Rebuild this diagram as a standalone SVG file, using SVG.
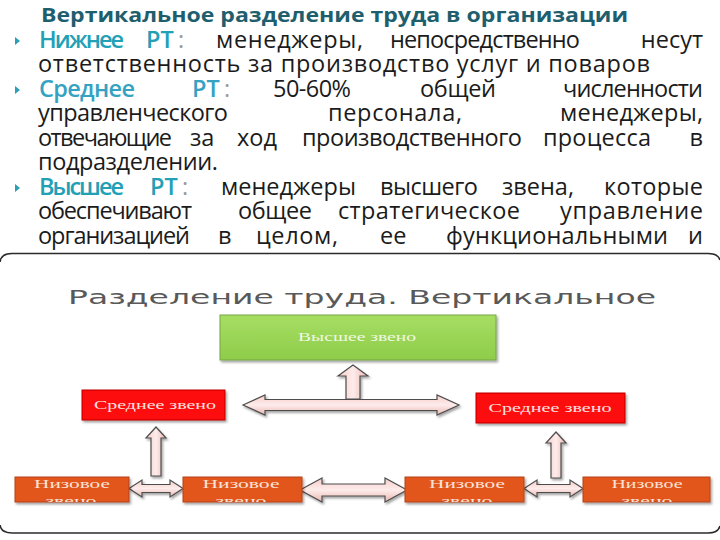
<svg xmlns="http://www.w3.org/2000/svg" width="720" height="540" viewBox="0 0 720 540">
<style>
.t{font-family:"Open Sans","DejaVu Sans",sans-serif;font-size:23.5px;fill:#1b1b1b}
.h{font-family:"Open Sans","DejaVu Sans",sans-serif;font-size:23.5px;font-weight:600;fill:#22a0b6}
.m{fill:#35a2c2}
.c{font-family:"Open Sans","DejaVu Sans",sans-serif;font-size:23.5px;fill:#9a9a9a}
.e{text-anchor:end}
.bt{font-family:"Liberation Serif","DejaVu Serif",serif;font-size:12px;text-anchor:middle}
.arr{fill:url(#pink);stroke:#4d4d4d;stroke-width:1.2;filter:url(#sh)}
.arv{fill:url(#pinkv);stroke:#4d4d4d;stroke-width:1.2;filter:url(#sh)}
.frame{fill:none;stroke:#2b2b2b;stroke-width:1.6}
.low{fill:#e2561d;stroke:#b4431a;stroke-width:1}
.red{fill:#fd0b0b;stroke:#c00000;stroke-width:1}
</style>
<defs>
<linearGradient id="pink" x1="0" y1="0" x2="0" y2="1">
<stop offset="0" stop-color="#f6cdc9"/><stop offset="0.5" stop-color="#fdeceb"/><stop offset="1" stop-color="#ebb6b1"/>
</linearGradient>
<linearGradient id="pinkv" x1="0" y1="0" x2="1" y2="0">
<stop offset="0" stop-color="#f6cdc9"/><stop offset="0.5" stop-color="#fdeceb"/><stop offset="1" stop-color="#ebb6b1"/>
</linearGradient>
<linearGradient id="green" x1="0" y1="0" x2="0" y2="1">
<stop offset="0" stop-color="#a6de62"/><stop offset="1" stop-color="#8fcc4b"/>
</linearGradient>
<filter id="sh" x="-20%" y="-20%" width="150%" height="160%">
<feDropShadow dx="1.5" dy="2" stdDeviation="1" flood-color="#000" flood-opacity="0.35"/>
</filter>
<polygon id="bul" points="0,-4 5,0 0,4" fill="#2a9fb5"/>
<clipPath id="c1"><rect x="15" y="477" width="114" height="25"/></clipPath>
<clipPath id="c2"><rect x="183" y="477" width="119" height="25"/></clipPath>
<clipPath id="c3"><rect x="405" y="477" width="119" height="25"/></clipPath>
<clipPath id="c4"><rect x="583" y="477" width="127" height="25"/></clipPath>
</defs>
<rect width="720" height="540" fill="#ffffff"/>

<g id="text-block">
<text x="41" y="21.5" font-family="Open Sans, DejaVu Sans, sans-serif" font-size="20" font-weight="700" fill="#1e5e6d" textLength="587" lengthAdjust="spacingAndGlyphs">Вертикальное разделение труда в организации</text>

<use href="#bul" x="15" y="41"/>
<text class="h" x="39" y="47.5" textLength="85">Нижнее</text>
<text class="h" x="146" y="47.5">РТ</text><text class="c" x="178" y="47.5">:</text>
<text class="t" x="216" y="47.5" textLength="147">менеджеры,</text>
<text class="t" x="390" y="47.5" textLength="190">непосредственно</text>
<text class="t e" x="703" y="47.5">несут</text>

<text class="t" x="38" y="72" textLength="612">ответственность за производство услуг и поваров</text>

<use href="#bul" x="15" y="90"/>
<text class="h m" x="39" y="96.5" textLength="96">Среднее</text>
<text class="h m" x="192" y="96.5">РТ</text><text class="c" x="224" y="96.5">:</text>
<text class="t" x="273" y="96.5" textLength="78">50-60%</text>
<text class="t" x="420" y="96.5" textLength="76">общей</text>
<text class="t e" x="703" y="96.5" textLength="140">численности</text>

<text class="t" x="38" y="121" textLength="190">управленческого</text>
<text class="t" x="328" y="121" textLength="134">персонала,</text>
<text class="t e" x="703" y="121" textLength="143">менеджеры,</text>

<text class="t" x="38" y="145.5" textLength="134">отвечающие</text>
<text class="t" x="190" y="145.5">за</text>
<text class="t" x="237" y="145.5">ход</text>
<text class="t" x="302" y="145.5" textLength="220">производственного</text>
<text class="t" x="543" y="145.5" textLength="108">процесса</text>
<text class="t e" x="703" y="145.5">в</text>

<text class="t" x="38" y="170" textLength="180">подразделении.</text>

<use href="#bul" x="15" y="188"/>
<text class="h" x="39" y="194.5" textLength="85">Высшее</text>
<text class="h" x="150" y="194.5">РТ</text><text class="c" x="182" y="194.5">:</text>
<text class="t" x="221" y="194.5" textLength="135">менеджеры</text>
<text class="t" x="380" y="194.5" textLength="98">высшего</text>
<text class="t" x="502" y="194.5" textLength="72">звена,</text>
<text class="t e" x="703" y="194.5" textLength="99">которые</text>

<text class="t" x="38" y="219" textLength="154">обеспечивают</text>
<text class="t" x="238" y="219" textLength="74">общее</text>
<text class="t" x="338" y="219" textLength="182">стратегическое</text>
<text class="t e" x="703" y="219" textLength="143">управление</text>

<text class="t" x="38" y="243.5" textLength="152">организацией</text>
<text class="t" x="218" y="243.5">в</text>
<text class="t" x="256" y="243.5" textLength="82">целом,</text>
<text class="t" x="380" y="243.5">ее</text>
<text class="t" x="446" y="243.5" textLength="222">функциональными</text>
<text class="t e" x="703" y="243.5">и</text>
</g>

<g id="frame">
<path class="frame" d="M0,262 Q1,253.5 12,253.5 L708,253.5 Q718,253.5 720,260"/>
<path class="frame" d="M0,525 Q1,533 12,533 L708,533 Q718,533 720,526"/>
</g>

<text x="68" y="304" font-family="DejaVu Sans, Verdana, sans-serif" font-size="19" fill="#595959" textLength="588" lengthAdjust="spacingAndGlyphs">Разделение труда. Вертикальное</text>

<g id="connectors">
<path class="arv" d="M353,365 L368,376 L360,376 L360,399 L346,399 L346,376 L338,376 Z"/>
<path class="arr" d="M243,405 L265,395 L265,399.5 L437,399.5 L437,395 L459,405 L437,415 L437,410.5 L265,410.5 L265,415 Z"/>
<path class="arv" d="M156,427 L166,438 L161,438 L161,476 L151,476 L151,438 L146,438 Z"/>
<path class="arv" d="M556,432 L566,443 L561,443 L561,478 L551,478 L551,443 L546,443 Z"/>
<path class="arr" d="M129,488.5 L142,480 L142,484.5 L170,484.5 L170,480 L183,488.5 L170,497 L170,492.5 L142,492.5 L142,497 Z"/>
<path class="arr" d="M300,490 L322,478 L322,484 L385,484 L385,478 L407,490 L385,502 L385,496 L322,496 L322,502 Z"/>
<path class="arr" d="M524,488.5 L537,480 L537,484.5 L570,484.5 L570,480 L583,488.5 L570,497 L570,492.5 L537,492.5 L537,497 Z"/>
</g>

<g id="node-top">
<rect x="220" y="315" width="276" height="45" fill="url(#green)" stroke="#76a646" stroke-width="1" filter="url(#sh)"/>
<text class="bt" x="357" y="341" fill="#eef8e2" textLength="118" lengthAdjust="spacingAndGlyphs">Высшее звено</text>
</g>
<g id="node-mid-left">
<rect class="red" x="82" y="390" width="143" height="30" filter="url(#sh)"/>
<text class="bt" x="155" y="409" fill="#ffe2e0" textLength="122" lengthAdjust="spacingAndGlyphs">Среднее звено</text>
</g>
<g id="node-mid-right">
<rect class="red" x="476" y="393" width="149" height="30" filter="url(#sh)"/>
<text class="bt" x="550" y="412" fill="#ffe2e0" textLength="123" lengthAdjust="spacingAndGlyphs">Среднее звено</text>
</g>
<g id="node-low-1">
<rect class="low" x="15" y="477" width="114" height="25" filter="url(#sh)"/>
<g clip-path="url(#c1)" fill="#fbe3d8">
<text class="bt" x="72" y="488" textLength="76" lengthAdjust="spacingAndGlyphs">Низовое</text>
<text class="bt" x="71" y="505" textLength="51" lengthAdjust="spacingAndGlyphs">звено</text>
</g>
</g>
<g id="node-low-2">
<rect class="low" x="183" y="477" width="119" height="25" filter="url(#sh)"/>
<g clip-path="url(#c2)" fill="#fbe3d8">
<text class="bt" x="241" y="488" textLength="77" lengthAdjust="spacingAndGlyphs">Низовое</text>
<text class="bt" x="241" y="505" textLength="51" lengthAdjust="spacingAndGlyphs">звено</text>
</g>
</g>
<g id="node-low-3">
<rect class="low" x="405" y="477" width="119" height="25" filter="url(#sh)"/>
<g clip-path="url(#c3)" fill="#fbe3d8">
<text class="bt" x="467" y="488" textLength="76" lengthAdjust="spacingAndGlyphs">Низовое</text>
<text class="bt" x="467" y="505" textLength="51" lengthAdjust="spacingAndGlyphs">звено</text>
</g>
</g>
<g id="node-low-4">
<rect class="low" x="583" y="477" width="127" height="25" filter="url(#sh)"/>
<g clip-path="url(#c4)" fill="#fbe3d8">
<text class="bt" x="647" y="488" textLength="71" lengthAdjust="spacingAndGlyphs">Низовое</text>
<text class="bt" x="647" y="505" textLength="51" lengthAdjust="spacingAndGlyphs">звено</text>
</g>
</g>
</svg>
